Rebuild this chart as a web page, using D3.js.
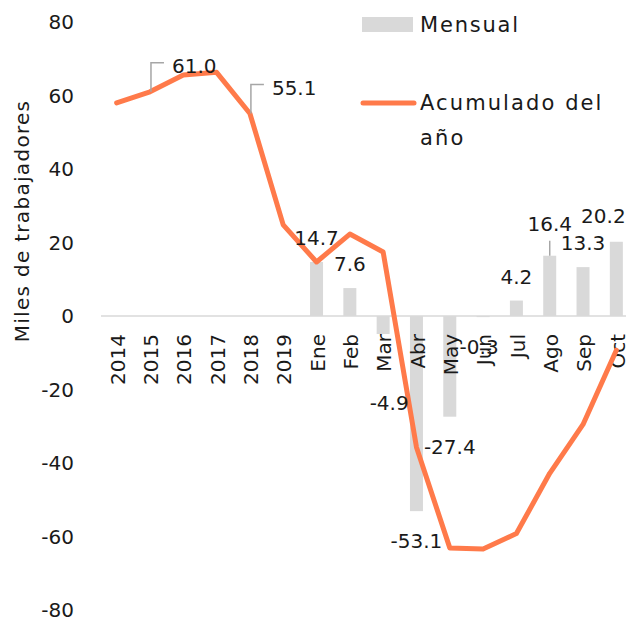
<!DOCTYPE html>
<html><head><meta charset="utf-8">
<script src="https://cdn.jsdelivr.net/npm/d3@7"></script>
<style>body{margin:0;background:#fff}svg{display:block}text{font-family:"DejaVu Sans",sans-serif;fill:#1a1a1a}</style>
</head><body><svg id="c" width="626" height="619"></svg>
<script>
const categories = ["2014","2015","2016","2017","2018","2019","Ene","Feb","Mar","Abr","May","Jun","Jul","Ago","Sep","Oct"];
const mensual = [null,null,null,null,null,null,14.7,7.6,-4.9,-53.1,-27.4,-0.3,4.2,16.4,13.3,20.2];
const acumulado = [58.0,61.0,65.6,66.3,55.1,24.8,14.7,22.3,17.4,-35.7,-63.1,-63.4,-59.2,-42.8,-29.5,-9.3];
const yTicks = [80,60,40,20,0,-20,-40,-60,-80];
const lineLabelIdx = [1,4];
// label nudges (px) for crowded bar labels
const barLabelNudge = {8:[6,39],11:[-4,0],13:[0,-8],15:[-13,-2]};

const svg = d3.select("#c");
const x = d3.scalePoint().domain(categories).range([100,633]).padding(0.5);
const y = d3.scaleLinear().domain([-80,80]).range([610,22]);
const bw = 13;
const orange = "#FF7A4A", grey = "#D9D9D9", lead = "#A6A6A6";

// y tick labels
svg.append("g").selectAll("text").data(yTicks).join("text")
  .attr("x",74).attr("y",d=>y(d)).attr("dy","0.36em").attr("text-anchor","end")
  .style("font-size","20px").text(d=>d);

// y title
svg.append("text").attr("transform",`translate(29,221) rotate(-90)`)
  .attr("text-anchor","middle").style("font-size","20px").style("letter-spacing","1.3px")
  .text("Miles de trabajadores");

// bars
const data = categories.map((c,i)=>({c,i,m:mensual[i],a:acumulado[i]}));
svg.append("g").selectAll("rect").data(data.filter(d=>d.m!==null)).join("rect")
  .attr("x",d=>x(d.c)-bw/2).attr("width",bw)
  .attr("y",d=>Math.min(y(d.m),y(0))).attr("height",d=>Math.max(1,Math.abs(y(d.m)-y(0))))
  .attr("fill",grey);

// axis line
svg.append("line").attr("x1",101).attr("x2",626).attr("y1",y(0)).attr("y2",y(0))
  .attr("stroke",grey).attr("stroke-width",1.5);

// x tick labels
svg.append("g").selectAll("text").data(categories).join("text")
  .attr("transform",d=>`translate(${x(d)+1},334) rotate(-90)`)
  .attr("dy","0.36em").attr("text-anchor","end").style("font-size","20px").text(d=>d);

// line
svg.append("path").datum(data)
  .attr("d",d3.line().x(d=>x(d.c)).y(d=>y(d.a)))
  .attr("fill","none").attr("stroke",orange).attr("stroke-width",5).attr("stroke-linejoin","round").attr("stroke-linecap","round");

// bar labels
data.filter(d=>d.m!==null).forEach(d=>{
  const n = barLabelNudge[d.i]||[0,0];
  const by = d.m>=0 ? y(d.m)-17 : y(d.m)+37;
  svg.append("text").attr("x",x(d.c)+n[0]).attr("y",by+n[1]).attr("text-anchor","middle")
    .style("font-size","20px").text(d.m.toFixed(1));
  if(d.i===13){
    svg.append("line").attr("x1",x(d.c)).attr("x2",x(d.c)).attr("y1",y(d.m)).attr("y2",y(d.m)-15)
      .attr("stroke",lead).attr("stroke-width",1.5);
  }
});

// line labels with leaders
lineLabelIdx.forEach(i=>{
  const px = x(categories[i])+1, py = y(acumulado[i]);
  const ty = py-29;
  svg.append("path").attr("d",`M${px},${py}V${ty}H${px+13}`).attr("fill","none").attr("stroke",lead).attr("stroke-width",1.5);
  svg.append("text").attr("x",px+21).attr("y",ty+10).style("font-size","20px").text(acumulado[i].toFixed(1));
});

// legend
svg.append("rect").attr("x",362).attr("y",17).attr("width",51).attr("height",15).attr("fill",grey);
svg.append("text").attr("x",420).attr("y",32).style("font-size","21px").style("letter-spacing","1.8px").text("Mensual");
svg.append("line").attr("x1",363).attr("x2",414).attr("y1",103).attr("y2",103).attr("stroke",orange).attr("stroke-width",5).attr("stroke-linecap","round");
svg.append("text").attr("x",420).attr("y",110).style("font-size","21px").style("letter-spacing","2.1px").text("Acumulado del");
svg.append("text").attr("x",420).attr("y",145).style("font-size","21px").style("letter-spacing","2.1px").text("año");
</script></body></html>
